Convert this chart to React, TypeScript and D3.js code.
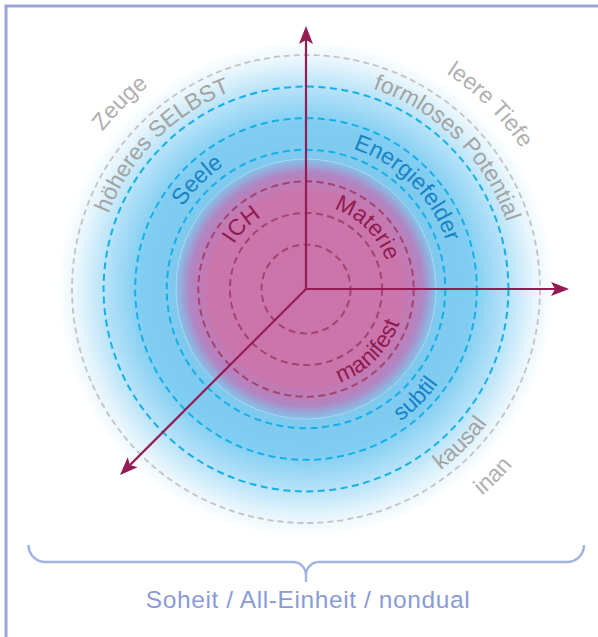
import React from 'react';
import * as d3 from 'd3';

const W = 598;
const H = 637;

// ring levels (1 = innermost)
const ringLevels = [1, 2, 3, 4, 5, 6, 7];
const ringBands = ['maroon', 'maroon', 'maroon', 'blue', 'blue', 'blue', 'gray'];

// labels per band (inner → outer)
const upperLeftLabels = ['ICH', 'Seele', 'höheres SELBST', 'Zeuge'];
const upperRightLabels = ['Materie', 'Energiefelder', 'formloses Potential', 'leere Tiefe'];
const lowerRightLabels = ['manifest', 'subtil', 'kausal', 'inan'];
const labelLevels = [2.5, 4.5, 6.5, 7.95];
const labelBands = ['maroon', 'blue', 'gray', 'outer'];

// axes (screen degrees)
const axisAngles = [-90, 0, 135];

const footerText = 'Soheit / All-Einheit / nondual';

const ringColor: Record<string, string> = {
  maroon: '#a5426f',
  blue: '#14b0e8',
  gray: '#c3c3c3',
};
const textColor: Record<string, string> = {
  maroon: '#8d1c52',
  blue: '#1883c6',
  gray: '#a3a3a3',
  outer: '#b0b0b0',
};

const cx = 306;
const cy = 289;
const rScale = d3.scaleLinear().domain([1, 7]).range([44.5, 234]);
const axisLen = rScale(7.92);
const FONT = '"Liberation Sans", Arial, Helvetica, sans-serif';

function arcPath(r: number, compassDeg: number, upper: boolean) {
  const p = d3.path();
  const rad = (d: number) => ((d - 90) * Math.PI) / 180;
  if (upper) {
    p.arc(cx, cy, r, rad(compassDeg - 90), rad(compassDeg + 90), false);
  } else {
    p.arc(cx, cy, r, rad(compassDeg + 90), rad(compassDeg - 90), true);
  }
  return p.toString();
}

function Arrow({ angle }: { angle: number }) {
  const a = (angle * Math.PI) / 180;
  const ux = Math.cos(a);
  const uy = Math.sin(a);
  const px = -uy;
  const py = ux;
  const tip = [cx + ux * axisLen, cy + uy * axisLen];
  const headLen = 18;
  const half = 7;
  const notch = 4;
  const back = [tip[0] - ux * headLen, tip[1] - uy * headLen];
  const notchPt = [tip[0] - ux * (headLen - notch), tip[1] - uy * (headLen - notch)];
  const head = d3.line()([
    tip as [number, number],
    [back[0] + px * half, back[1] + py * half],
    notchPt as [number, number],
    [back[0] - px * half, back[1] - py * half],
  ]) + 'Z';
  return (
    <g>
      <line x1={cx} y1={cy} x2={notchPt[0]} y2={notchPt[1]} stroke="#941b54" strokeWidth={2.2} />
      <path d={head} fill="#941b54" />
    </g>
  );
}

export default function App() {
  const labelGroups = [
    { texts: upperLeftLabels, compass: -45, upper: true },
    { texts: upperRightLabels, compass: 45, upper: true },
    { texts: lowerRightLabels, compass: 135, upper: false },
  ];
  return (
    <svg
      width={W}
      height={H}
      viewBox={`0 0 ${W} ${H}`}
      style={{ position: 'absolute', left: 0, top: 0, background: '#fff' }}
    >
      <defs>
        <radialGradient id="glow" gradientUnits="userSpaceOnUse" cx={cx} cy={cy} r={248}>
          <stop offset="0" stopColor="#cb74ab" />
          <stop offset="0.39" stopColor="#ca75ac" />
          <stop offset="0.47" stopColor="#b086c3" />
          <stop offset="0.53" stopColor="#7fc9ee" />
          <stop offset="0.67" stopColor="#80cdf2" />
          <stop offset="0.81" stopColor="#b6e2f8" />
          <stop offset="0.92" stopColor="#e6f5fc" />
          <stop offset="1" stopColor="#ffffff" />
        </radialGradient>
        {labelGroups.map((g, gi) =>
          g.texts.map((_, i) => (
            <path
              key={`p${gi}-${i}`}
              id={`lp${gi}-${i}`}
              d={arcPath(rScale(labelLevels[i]) + (g.upper ? -7 : 7.5), g.compass, g.upper)}
              fill="none"
            />
          ))
        )}
      </defs>

      <rect x={6} y={6} width={700} height={700} fill="none" stroke="#98a7db" strokeWidth={3} />

      <circle cx={cx} cy={cy} r={248} fill="url(#glow)" />
      <circle cx={cx} cy={cy} r={130} fill="none" stroke="#ffffff" strokeOpacity={0.4} strokeWidth={0.8} />

      {ringLevels.map((lv, i) => (
        <circle
          key={lv}
          cx={cx}
          cy={cy}
          r={rScale(lv)}
          fill="none"
          stroke={ringColor[ringBands[i]]}
          strokeWidth={ringBands[i] === 'gray' ? 1.8 : 2}
          strokeDasharray={ringBands[i] === 'gray' ? '6 4' : '7 4.5'}
        />
      ))}

      {axisAngles.map((a) => (
        <Arrow key={a} angle={a} />
      ))}

      {labelGroups.map((g, gi) =>
        g.texts.map((t, i) => (
          <text
            key={`t${gi}-${i}`}
            fontFamily={FONT}
            fontSize={23}
            letterSpacing={0}
            fill={textColor[labelBands[i]]}
          >
            <textPath href={`#lp${gi}-${i}`} startOffset="50%" textAnchor="middle">
              {t}
            </textPath>
          </text>
        ))
      )}

      <path
        d="M28.5,545 A17,17 0 0 0 45.5,562 H293 A13,13 0 0 1 306,575 V582 M306,575 A13,13 0 0 1 319,562 H567 A17,17 0 0 0 584,545"
        fill="none"
        stroke="#a3b4e3"
        strokeWidth={2.5}
      />

      <text
        x={308}
        y={608}
        textAnchor="middle"
        fontFamily={FONT}
        fontSize={24.5}
        letterSpacing={0.6}
        fill="#8a9bd5"
      >
        {footerText}
      </text>
    </svg>
  );
}
